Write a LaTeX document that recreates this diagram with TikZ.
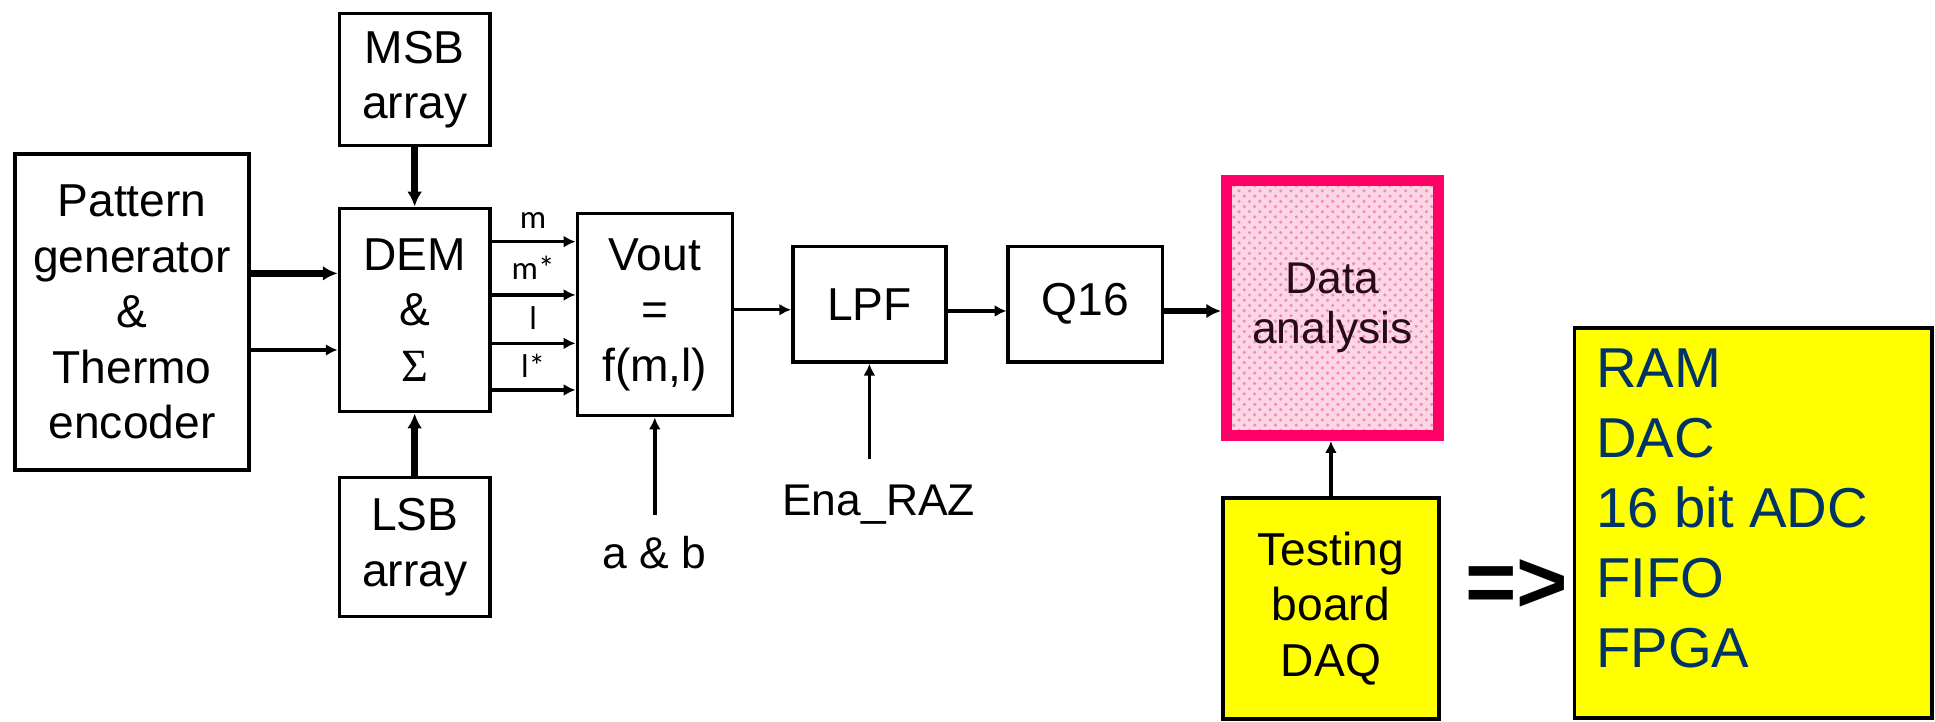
\documentclass[tikz,border=0pt]{standalone}
\usepackage{fontspec}
\setmainfont{Liberation Sans}
\newfontfamily\greekfont{Liberation Serif}
\newfontfamily\labelfont{Carlito}
\usetikzlibrary{arrows.meta,patterns}
\definecolor{borderpink}{RGB}{255,0,102}
\definecolor{fillpink}{RGB}{252,214,228}
\definecolor{dotpink}{RGB}{238,140,180}
\definecolor{boardyellow}{RGB}{255,255,0}
\definecolor{listblue}{RGB}{0,51,102}
\definecolor{darktext}{RGB}{40,10,25}

\tikzset{
  block/.style={draw=black, line width=1pt, align=center, inner sep=0pt,
    font=\fontsize{13.3}{16}\selectfont},
  busname/.style={inner sep=0pt, font=\labelfont\fontsize{9.5}{10}\selectfont},
  ctrl/.style={inner sep=0pt, anchor=north, font=\fontsize{12.8}{15}\selectfont},
  sig/.style={-{Latex[length=1.2mm,width=1.2mm]}, line width=1pt},
  bus/.style={-{Latex[length=1.5mm,width=1.5mm]}, line width=1.9pt},
}

\begin{document}
\begin{tikzpicture}[x=0.0125cm, y=-0.0125cm]
\useasboundingbox (0,0) rectangle (1568,585);
% blocks
\node[block, minimum width=2.37cm, minimum height=3.2cm] (patgen) at (107,252.8) {Pattern\\generator\\\&\\Thermo\\encoder};
\node[block, minimum width=1.525cm, minimum height=1.34cm] (msb) at (336,64.4) {MSB\\array};
\node[block, minimum width=1.525cm, minimum height=2.06cm] (dem) at (336,251.2) {DEM\\\&\\{\greekfont Σ}};
\node[block, minimum width=1.525cm, minimum height=1.41cm] (lsb) at (336,443.2) {LSB\\array};
\node[block, minimum width=1.57cm, minimum height=2.05cm] (vout) at (530.6,254.85) {Vout\\=\\f(m,l)};
\node[block, minimum width=1.55cm, minimum height=1.17cm] (lpf) at (704.5,246.5) {LPF};
\node[block, minimum width=1.5625cm, minimum height=1.17cm] (q16) at (879.5,246.5) {Q16};
\node[block, draw=borderpink, line width=3.2pt, preaction={fill=fillpink}, pattern=crosshatch dots, pattern color=dotpink,
  text=darktext, font=\fontsize{12.8}{14.2}\selectfont,
  minimum width=2.144cm, minimum height=2.584cm] (data) at (1079.75,249.5) {Data\\analysis};
\node[block, fill=boardyellow, minimum width=2.19cm, minimum height=2.24cm] (daq) at (1078.5,493) {Testing\\board\\DAQ};
\node[draw=black, line width=1.1pt, fill=boardyellow, minimum width=3.62cm, minimum height=3.95cm] (hw) at (1420.75,423.8) {};
\node[anchor=north west, align=left, inner sep=0pt, text=listblue, font=\fontsize{16.2}{20.2}\selectfont] (hwlist) at (1293,282) {RAM\\DAC\\16 bit ADC\\FIFO\\FPGA};
\node[inner sep=0pt, font=\fontsize{25.4}{30}\bfseries] (implies) at (1229,475) {=>};

% bus names
\node[busname] (nm) at (432,179) {m};
\node[busname] (nms) at (432,217) {m*};
\node[busname] (nl) at (432,258) {l};
\node[busname] (nls) at (432,296) {l*};
\node[ctrl] (ab) at (530.6,434) {a \& b};
\node[ctrl] (ena) at (712,392) {Ena\_RAZ};

% connections
\draw[bus] (patgen.east |- 0,221.5) -- (dem.west |- 0,221.5);
\draw[sig] (patgen.east |- 0,283.6) -- (dem.west |- 0,283.6);
\draw[bus] (msb) -- (dem);
\draw[bus] (lsb) -- (dem);
\draw[sig] (dem.east |- 0,195.8) -- (vout.west |- 0,195.8);
\draw[sig] (dem.east |- 0,239) -- (vout.west |- 0,239);
\draw[sig] (dem.east |- 0,278.2) -- (vout.west |- 0,278.2);
\draw[sig] (dem.east |- 0,316) -- (vout.west |- 0,316);
\draw[sig] ([yshift=6pt]ab.north) -- (vout.south);
\draw[sig] (vout.east |- 0,251) -- (lpf.west |- 0,251);
\draw[sig] (lpf.east |- 0,252) -- (q16.west |- 0,252);
\draw[bus] (q16.east |- 0,252) -- (data.west |- 0,252);
\draw[sig] ([yshift=7pt]ena.north -| lpf.south) -- (lpf.south);
\draw[sig] (daq.north) -- (daq.north |- data.south);
\end{tikzpicture}
\end{document}
